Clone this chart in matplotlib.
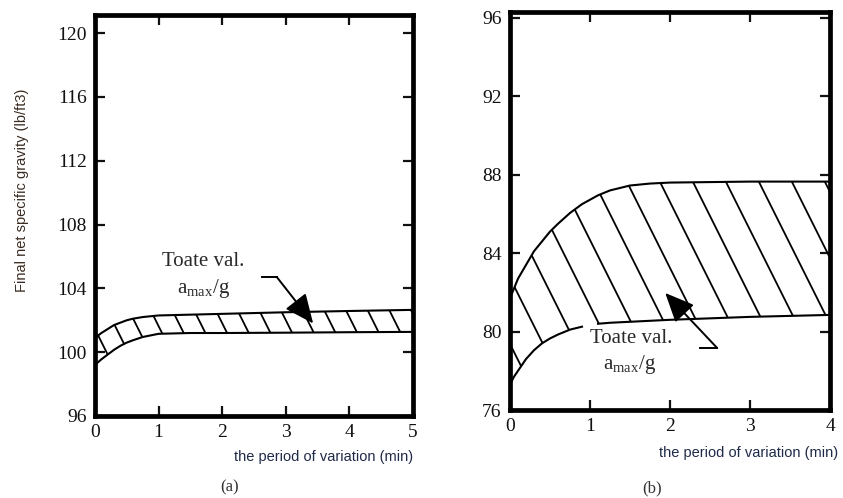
import numpy as np
import matplotlib.pyplot as plt
from matplotlib.collections import LineCollection
from matplotlib.patches import FancyArrowPatch

plt.rcParams['font.family'] = 'Liberation Serif'
plt.rcParams['mathtext.fontset'] = 'custom'
plt.rcParams['mathtext.rm'] = 'Liberation Serif'

# panel (a) band
xa = [0, 0.1, 0.2, 0.3, 0.4, 0.5, 0.6, 0.75, 1, 1.5, 2, 3, 4, 5]
upper_a = [100.9, 101.2, 101.45, 101.7, 101.85, 102.0, 102.1, 102.2, 102.3, 102.35, 102.4, 102.5, 102.58, 102.65]
lower_a = [99.2, 99.55, 99.85, 100.15, 100.4, 100.6, 100.75, 100.95, 101.15, 101.2, 101.2, 101.22, 101.25, 101.27]
xticks_a = [0, 1, 2, 3, 4, 5]
yticks_a = [96, 100, 104, 108, 112, 116, 120]

# panel (b) band
xb = [0, 0.05, 0.1, 0.2, 0.3, 0.4, 0.5, 0.6, 0.75, 0.9, 1.1, 1.25, 1.5, 1.75, 2, 3, 4]
upper_b = [81.7, 82.2, 82.7, 83.4, 84.1, 84.6, 85.1, 85.5, 86.05, 86.5, 86.95, 87.2, 87.45, 87.55, 87.6, 87.65, 87.65]
lower_b = [77.3, 77.7, 78.0, 78.6, 79.05, 79.4, 79.65, 79.85, 80.1, 80.25, 80.4, 80.45, 80.5, 80.55, 80.6, 80.75, 80.85]
gap_b = 10  # lower line is broken between x=0.9 and x=1.1
xticks_b = [0, 1, 2, 3, 4]
yticks_b = [76, 80, 84, 88, 92, 96]

note_text = 'Toate val.'
note_sub = r'a$_{\rm max}$/g'
xlabel = 'the period of variation (min)'
ylabel = 'Final net specific gravity (lb/ft3)'

DPI = 100
fig = plt.figure(figsize=(8.43, 4.98), dpi=DPI)
ax_a = fig.add_axes([0.1127, 0.1647, 0.3772, 0.8052])
ax_b = fig.add_axes([0.605, 0.1767, 0.3796, 0.7992])


def hatch_band(ax, x, lo, hi, spacing_px, slope=2.0):
    poly = ax.fill_between(x, lo, hi, facecolor='white', edgecolor='none')
    pos = ax.get_position()
    w_px = pos.width * fig.get_figwidth() * DPI
    h_px = pos.height * fig.get_figheight() * DPI
    x0, x1 = ax.get_xlim()
    y0, y1 = ax.get_ylim()
    sx = w_px / (x1 - x0)
    run = h_px / slope
    starts = np.arange(-run, w_px + spacing_px, spacing_px)
    segs = [[(x0 + s / sx, y1), (x0 + (s + run) / sx, y0)] for s in starts]
    lc = LineCollection(segs, colors='black', linewidths=1.3)
    ax.add_collection(lc, autolim=False)
    lc.set_clip_path(poly.get_paths()[0], ax.transData)


def pointer(ax, start, bend, tip):
    ax.plot([start[0], bend[0]], [start[1], bend[1]], color='black', lw=1.4)
    ax.add_patch(FancyArrowPatch(bend, tip, arrowstyle='-|>,head_length=0.9,head_width=0.4',
                                 mutation_scale=20, color='black', lw=1.4,
                                 shrinkA=0, shrinkB=0))


def style(ax, xlim, ylim, xt, yt):
    ax.set_xlim(*xlim)
    ax.set_ylim(*ylim)
    ax.set_xticks(xt)
    ax.set_yticks(yt)
    for s in ax.spines.values():
        s.set_linewidth(3.4)
    ax.tick_params(direction='in', length=7, width=1.6, top=True, right=True,
                   labelsize=14, pad=6, colors='#111111')


# (a)
style(ax_a, (0, 5), (96, 121.13), xticks_a, yticks_a)
hatch_band(ax_a, xa, lower_a, upper_a, 21.7)
ax_a.plot(xa, upper_a, color='black', lw=1.5)
ax_a.plot(xa, lower_a, color='black', lw=1.5)
ax_a.text(1.7, 105.65, note_text, fontsize=15, ha='center', va='center', color='#2a2a2a')
ax_a.text(1.7, 104.0, note_sub, fontsize=15, ha='center', va='center', color='#2a2a2a')
pointer(ax_a, (2.63, 104.7), (2.86, 104.7), (3.43, 101.8))

# (b)
style(ax_b, (0, 4), (76, 96.3), xticks_b, yticks_b)
hatch_band(ax_b, xb, lower_b, upper_b, 33)
ax_b.plot(xb, upper_b, color='black', lw=1.5)
ax_b.plot(xb[:gap_b], lower_b[:gap_b], color='black', lw=1.5)
ax_b.plot(xb[gap_b:], lower_b[gap_b:], color='black', lw=1.5)
ax_b.text(1.52, 79.67, note_text, fontsize=15, ha='center', va='center', color='#2a2a2a')
ax_b.text(1.5, 78.3, note_sub, fontsize=15, ha='center', va='center', color='#2a2a2a')
pointer(ax_b, (2.37, 79.16), (2.59, 79.16), (1.94, 81.97))

# labels
fig.text(413 / 843, 1 - 457 / 498, xlabel, family='Liberation Sans', fontsize=10.5,
         ha='right', va='center', color='#1f2a48')
fig.text(838 / 843, 1 - 453 / 498, xlabel, family='Liberation Sans', fontsize=10.5,
         ha='right', va='center', color='#1f2a48')
fig.text(22 / 843, 1 - 190 / 498, ylabel, family='Liberation Sans', fontsize=10.5,
         rotation=90, ha='center', va='center', color='#3a2c22')
fig.text(230 / 843, 1 - 487 / 498, '(a)', fontsize=12, ha='center', va='center', color='#333333')
fig.text(652 / 843, 1 - 488 / 498, '(b)', fontsize=12, ha='center', va='center', color='#333333')

fig.savefig('out.png', dpi=DPI)
